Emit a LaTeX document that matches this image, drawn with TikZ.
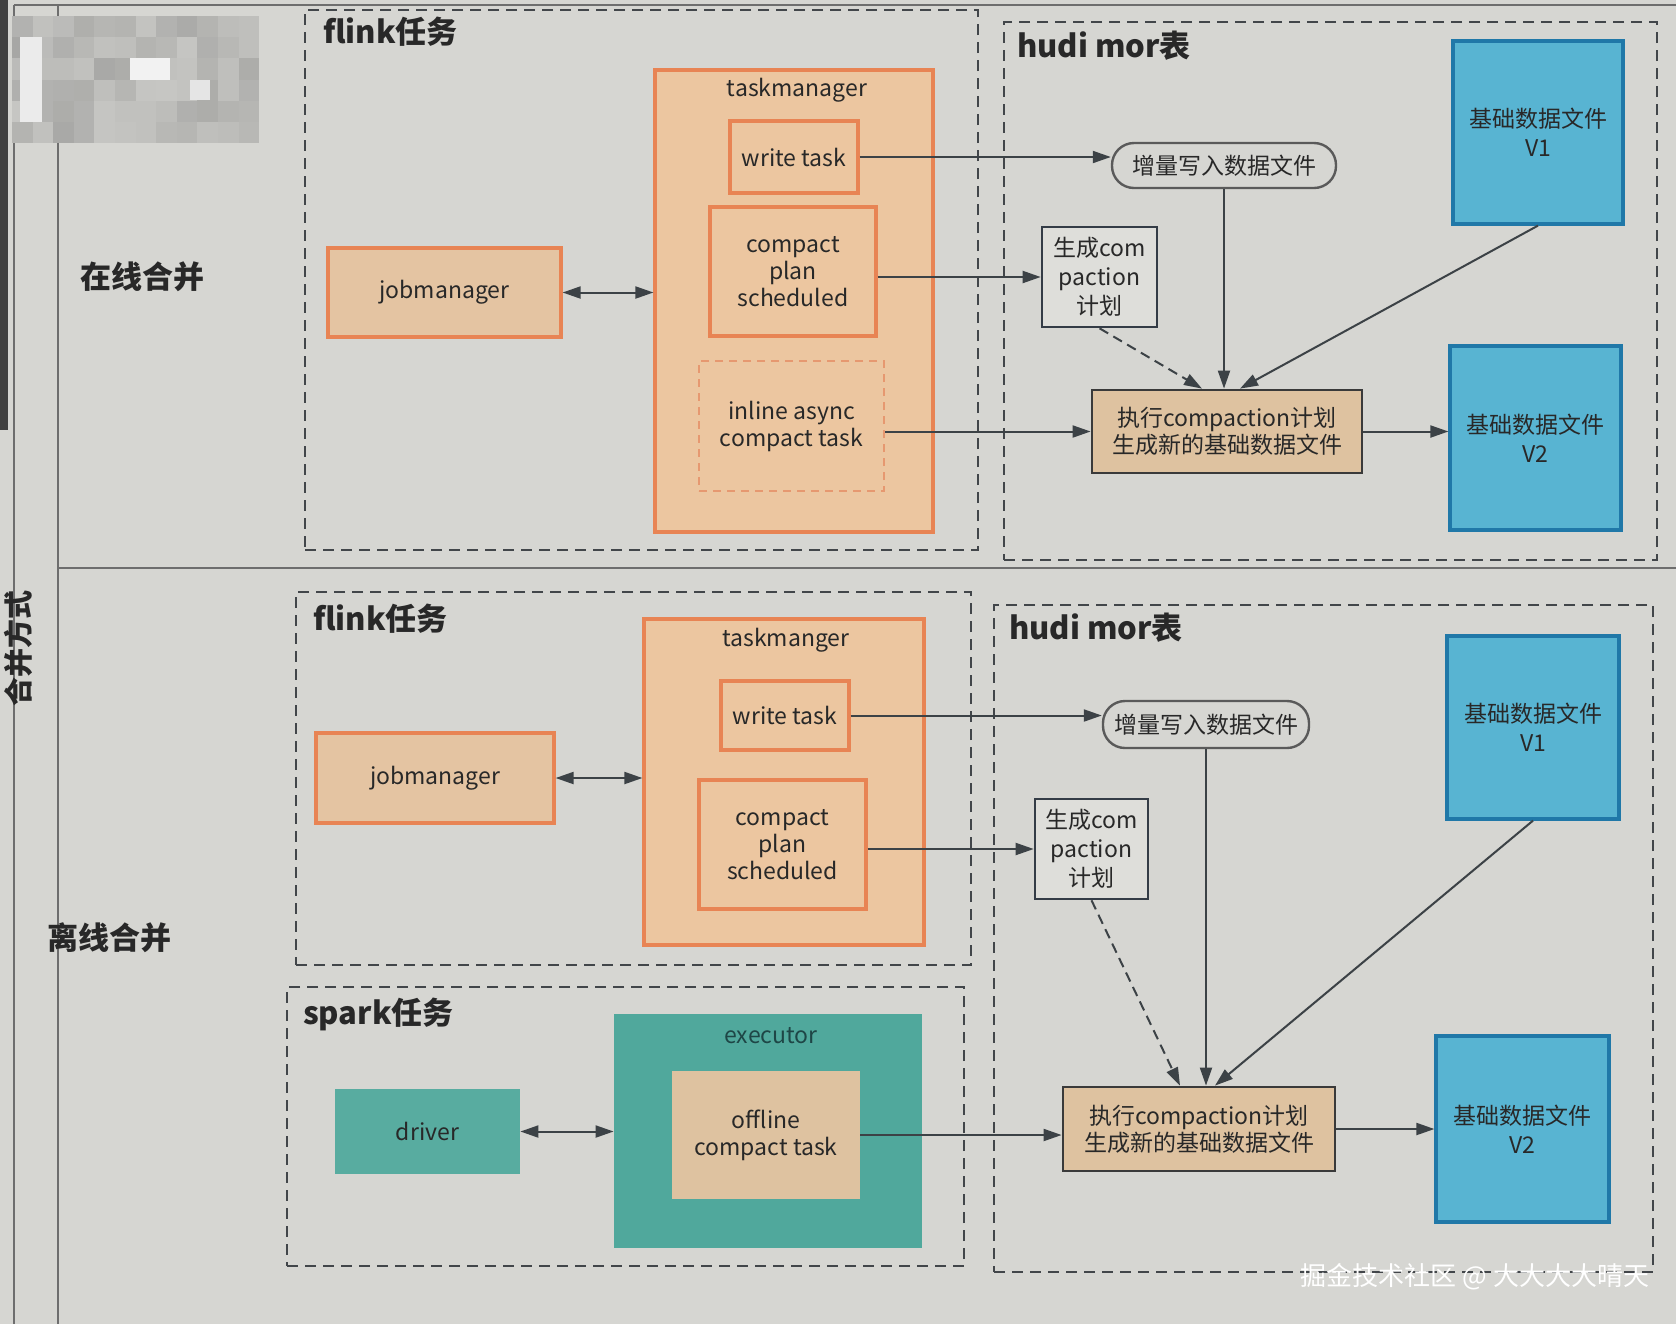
\documentclass[tikz,border=0pt]{standalone}
\usepackage{fontspec}
\setmainfont{Noto Sans CJK SC}
\usetikzlibrary{arrows.meta}
\definecolor{bg}{RGB}{214,214,210}
\definecolor{txt}{RGB}{40,40,40}
\definecolor{dashc}{RGB}{66,70,74}
\definecolor{linec}{RGB}{110,110,110}
\definecolor{arrc}{RGB}{60,66,70}
\definecolor{orB}{RGB}{232,132,84}
\definecolor{orF}{RGB}{236,198,160}
\definecolor{jmF}{RGB}{228,196,162}
\definecolor{orD}{RGB}{230,152,112}
\definecolor{exF}{RGB}{222,194,160}
\definecolor{exB}{RGB}{58,58,58}
\definecolor{blF}{RGB}{88,180,210}
\definecolor{blB}{RGB}{32,120,168}
\definecolor{tlF}{RGB}{80,168,156}
\definecolor{tlD}{RGB}{88,172,160}
\definecolor{scF}{RGB}{222,222,218}
\definecolor{scB}{RGB}{52,60,70}
\definecolor{zlB}{RGB}{90,90,90}
\begin{document}
\begin{tikzpicture}[x=0.5pt,y=-0.5pt,
  every node/.style={font=\fontsize{11.5}{13.5}\selectfont, text=txt},
  corners/.style args={#1/#2/#3/#4}{at={({(#1+#3)/2},{(#2+#4)/2})}, minimum width={(#3-#1)*0.5pt}, minimum height={(#4-#2)*0.5pt}, inner sep=0pt, anchor=center},
  dbox/.style={draw=dashc, line width=1.3pt, dash pattern=on 5.5pt off 3.5pt},
  obox/.style={draw=orB, fill=orF, line width=1.6pt, align=center},
  jbox/.style={draw=orB, fill=jmF, line width=1.6pt, align=center},
  idbox/.style={draw=orD, fill=orF, line width=1.3pt, dash pattern=on 4pt off 3pt, align=center},
  xbox/.style={draw=exB, fill=exF, line width=1.4pt, align=center},
  bbox/.style={draw=blB, fill=blF, line width=1.6pt, align=center, font=\fontsize{11.5}{14.5}\selectfont},
  tbox/.style={fill=tlF, align=center},
  ocbox/.style={fill=exF, align=center},
  sbox/.style={draw=scB, fill=scF, line width=1.3pt, align=center, font=\fontsize{11.5}{14.5}\selectfont},
  zbox/.style={draw=zlB, fill=bg, line width=1.2pt, rounded corners=11pt, align=center},
  ttl/.style={font=\bfseries\fontsize{15.5}{18}\selectfont, text=txt, anchor=west},
  rowlbl/.style={font=\bfseries\fontsize{15.5}{18}\selectfont, text=txt},
  arr/.style={draw=arrc, line width=1pt, -{Triangle[length=9pt,width=6pt]}},
  darr/.style={draw=arrc, line width=1pt, {Triangle[length=9pt,width=6pt]}-{Triangle[length=9pt,width=6pt]}},
  dsarr/.style={draw=arrc, line width=1pt, dash pattern=on 5pt off 3pt, -{Triangle[length=9pt,width=6pt]}}
]
\useasboundingbox (0,0) rectangle (1676,1324);
\fill[bg] (0,0) rectangle (1676,1324);
% table lines
\fill[black!75] (0,0) rectangle (8,430);
\draw[linec, line width=1pt] (14,5) -- (14,1324);
\draw[linec, line width=1pt] (58,5) -- (58,1324);
\draw[linec, line width=1pt] (14,5) -- (1676,5);
\draw[linec, line width=1pt] (58,568) -- (1676,568);
% mosaic (pixelated patch)
\pgfmathsetseed{11}
\foreach \i in {0,...,11}{\foreach \j in {0,...,5}{
  \pgfmathsetmacro\g{int(12+18*rnd)}
  \fill[black!\g!bg!85!white] ({12+\i*20.6},{16+\j*21.2}) rectangle ({12+(\i+1)*20.6},{16+(\j+1)*21.2});
}}
\fill[white!92!black] (20,37) rectangle (42,122);
\fill[white!95!black] (130,58) rectangle (170,80);
\fill[white!90!black] (190,80) rectangle (210,100);
% row labels
\node[rowlbl] (rowA) at (142,277) {在线合并};
\node[rowlbl] (rowB) at (109,938) {离线合并};
\node[rowlbl, rotate=90, font=\bfseries\fontsize{14.5}{17}\selectfont] (colT) at (18,648) {合并方式};

% ===== top: online =====
\node[dbox, corners=305/10/978/550] (flinkA) {};
\node[ttl] (flinkAt) at (316,32) {flink任务};
\node[dbox, corners=1004/22/1657/560] (hudiA) {};
\node[ttl] (hudiAt) at (1010,46) {hudi mor表};
\node[obox, corners=655/70/933/532] (tmA) {};
\node (tmAl) at (797,90) {taskmanager};
\node[obox, corners=730/121/858/193] (wtA) {write task};
\node[obox, corners=710/207/876/336] (cpA) {compact\\plan\\scheduled};
\node[idbox, corners=699/361/884/491] (iaA) {inline async\\compact task};
\node[jbox, corners=328/248/561/337] (jmA) {jobmanager};
\node[zbox, corners=1112/143/1336/188] (zlA) {增量写入数据文件};
\node[sbox, corners=1042/227/1157/327] (scA) {生成com\\paction\\计划};
\node[xbox, corners=1092/390/1362/473] (exA) {执行compaction计划\\生成新的基础数据文件};
\node[bbox, corners=1453/41/1623/224] (v1A) {基础数据文件\\V1};
\node[bbox, corners=1450/346/1621/530] (v2A) {基础数据文件\\V2};

\draw[darr] (jmA.east) -- (jmA.east -| tmA.west);
\draw[arr] (wtA.east) -- (wtA.east -| zlA.west);
\draw[arr] (cpA.east |- scA.west) -- (scA.west);
\draw[arr] (iaA.east |- exA.west) -- (exA.west);
\draw[arr] (zlA.south) -- (zlA.south |- exA.north);
\draw[arr] (v1A.south) -- ([xshift=6.5pt]exA.north);
\draw[dsarr] (scA.south) -- ([xshift=-12.5pt]exA.north);
\draw[arr] (exA.east) -- (exA.east -| v2A.west);

% ===== bottom: offline =====
\node[dbox, corners=296/592/971/965] (flinkB) {};
\node[ttl] (flinkBt) at (306,619) {flink任务};
\node[obox, corners=644/619/924/945] (tmB) {};
\node (tmBl) at (786,640) {taskmanger};
\node[obox, corners=721/681/849/750] (wtB) {write task};
\node[obox, corners=699/780/866/909] (cpB) {compact\\plan\\scheduled};
\node[jbox, corners=316/733/554/823] (jmB) {jobmanager};

\node[dbox, corners=287/987/964/1266] (sparkB) {};
\node[ttl] (sparkBt) at (296,1014) {spark任务};
\node[tbox, corners=614/1014/922/1248] (exeB) {};
\node[text={rgb,255:red,30;green,70;blue,70}] (exeBl) at (771,1036) {executor};
\node[ocbox, corners=672/1071/860/1199] (ocB) {offline\\compact task};
\node[tbox, fill=tlD, corners=335/1089/520/1174] (drB) {driver};

\node[dbox, corners=994/605/1653/1272] (hudiB) {};
\node[ttl] (hudiBt) at (1002,628) {hudi mor表};
\node[zbox, corners=1103/701/1309/748] (zlB) {增量写入数据文件};
\node[sbox, corners=1035/799/1148/899] (scB) {生成com\\paction\\计划};
\node[xbox, corners=1063/1087/1335/1171] (exB) {执行compaction计划\\生成新的基础数据文件};
\node[bbox, corners=1447/636/1619/819] (v1B) {基础数据文件\\V1};
\node[bbox, corners=1436/1036/1609/1222] (v2B) {基础数据文件\\V2};

\draw[darr] (jmB.east) -- (jmB.east -| tmB.west);
\draw[arr] (wtB.east) -- (wtB.east -| zlB.west);
\draw[arr] (cpB.east |- scB.west) -- (scB.west);
\draw[darr] (drB.east) -- (drB.east -| exeB.west);
\draw[arr] (ocB.east) -- (ocB.east -| exB.west);
\draw[arr] (zlB.south) -- (zlB.south |- exB.north);
\draw[arr] (v1B.south) -- ([xshift=8pt]exB.north);
\draw[dsarr] (scB.south) -- ([xshift=-9.5pt]exB.north);
\draw[arr] (exB.east) -- (exB.east -| v2B.west);

% watermark
\node[text=white, font=\fontsize{13}{15}\selectfont] (wm) at (1475,1277) {掘金技术社区 @ 大大大大晴天};
\end{tikzpicture}
\end{document}
